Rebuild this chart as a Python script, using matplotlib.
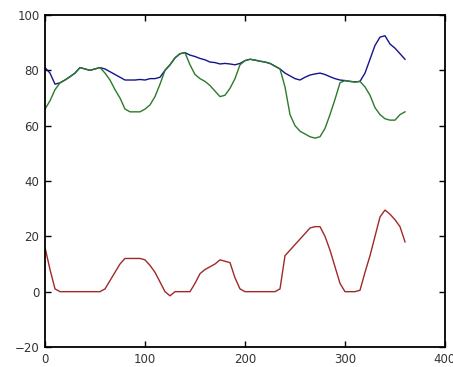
import matplotlib
matplotlib.use("Agg")
import matplotlib.pyplot as plt

x = list(range(0, 361, 5))

red = [16, 8, 1, 0, 0, 0, 0, 0, 0, 0, 0, 0, 1, 4, 7, 10, 12, 12, 12, 12,
       11.5, 9.5, 7, 3.5, 0, -1.5, 0, 0, 0, 0, 3, 6.5, 8, 9, 10, 11.5, 11, 10.5, 5, 1,
       0, 0, 0, 0, 0, 0, 0, 1, 13, 15, 17, 19, 21, 23, 23.5, 23.5, 20, 15, 9, 3,
       0, 0, 0, 0.5, 7, 13, 20, 27, 29.5, 28, 26, 23.5, 18]

blue = [81, 79, 75, 75.5, 76.5, 77.7, 79, 81, 80.5, 80, 80.5, 81, 80.5, 79.5, 78.5, 77.5,
        76.5, 76.5, 76.5, 76.7, 76.5, 77, 77, 77.5, 80, 82, 84.5, 86, 86.4, 85.5, 85, 84.3,
        83.8, 83, 82.8, 82.3, 82.5, 82.3, 82, 82.5, 83.5, 84, 83.7, 83.3, 83, 82.5, 81.5, 80.5,
        79, 78, 77, 76.5, 77.5, 78.3, 78.7, 79, 78.5, 77.7, 77, 76.5, 76.3, 76, 75.8, 76,
        79, 84, 89, 92, 92.5, 89.5, 88, 86, 84]

green = [66, 69, 73, 75.5, 76.5, 77.7, 79, 81, 80.5, 80, 80.5, 81, 79, 76.5, 73, 70,
         66, 65, 65, 65, 66, 67.5, 70.5, 75, 80, 82, 84.5, 86, 86.4, 82, 78.5, 77,
         76, 74.5, 72.5, 70.5, 71, 73.5, 77, 82, 83.5, 84, 83.7, 83.3, 83, 82.5, 81.5, 80.5,
         74, 64, 60, 58, 57, 56, 55.5, 56, 59, 64, 69.5, 75.5, 76.3, 76, 75.8, 76,
         74, 71, 66.5, 64, 62.5, 62, 62, 64, 65]

xticks = [0, 100, 200, 300, 400]
yticks = [-20, 0, 20, 40, 60, 80, 100]

fig = plt.figure(figsize=(4.53, 3.67), dpi=100)
ax = fig.add_axes([45/453, 20/367, 400/453, 332/367])

ax.plot(x, blue, color="#14148c", lw=1.0)
ax.plot(x, green, color="#2a7a2a", lw=1.0)
ax.plot(x, red, color="#a02828", lw=1.0)

ax.set_xlim(0, 400)
ax.set_ylim(-20, 100)
ax.set_xticks(xticks)
ax.set_yticks(yticks)
ax.tick_params(direction="in", top=True, right=True, length=4, width=1,
               labelsize=8.5, labelcolor="#333333", pad=4)
for s in ax.spines.values():
    s.set_linewidth(1.3)

fig.savefig("out.png", dpi=100)
